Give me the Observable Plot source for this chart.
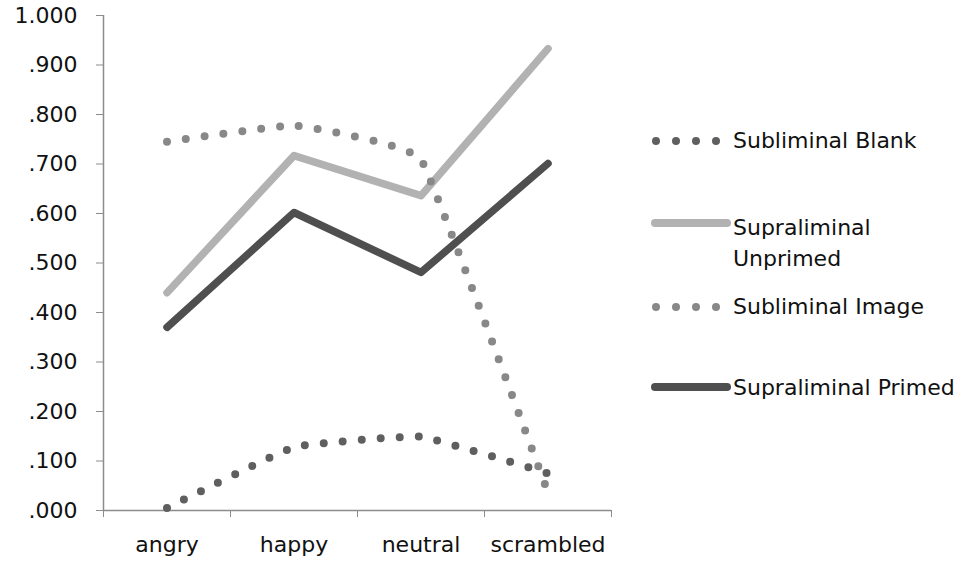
<!DOCTYPE html>
<html>
<head>
<meta charset="utf-8">
<script src="https://cdn.jsdelivr.net/npm/d3@7"></script>
<script src="https://cdn.jsdelivr.net/npm/@observablehq/plot@0.6"></script>
<style>
  body { margin: 0; background: #fff; }
  #wrap { position: relative; width: 972px; height: 572px; }
  #legend { position: absolute; left: 0; top: 0; pointer-events: none; }
</style>
</head>
<body>
<div id="wrap"></div>
<script>
const categories = ["angry", "happy", "neutral", "scrambled"];
const subliminalBlank = [0.005, 0.128, 0.149, 0.075];
const supraliminalUnprimed = [0.440, 0.717, 0.636, 0.933];
const subliminalImage = [0.745, 0.778, 0.709, 0.036];
const supraliminalPrimed = [0.370, 0.602, 0.481, 0.701];
const yTicks = [0, 0.1, 0.2, 0.3, 0.4, 0.5, 0.6, 0.7, 0.8, 0.9, 1.0];
const seriesNames = ["Subliminal Blank", "Supraliminal Unprimed", "Subliminal Image", "Supraliminal Primed"];

const toRows = (vals) => vals.map((v, i) => ({i, v}));
const boundaries = [-0.5, 0.5, 1.5, 2.5, 3.5];
const centers = categories.map((_, i) => i);
const fmtY = (d) => d3.format(".3f")(d).replace(/^0\./, ".");

const FONT = "DejaVu Sans";
const axisColor = "#8c8c8c";

const chart = Plot.plot({
  width: 972,
  height: 572,
  marginLeft: 103,
  marginRight: 361,
  marginTop: 15,
  marginBottom: 62,
  style: {fontFamily: FONT, fontSize: "22px", color: "#111", background: "#fff"},
  x: {type: "linear", domain: [-0.5, 3.5]},
  y: {domain: [0, 1]},
  marks: [
    Plot.ruleX([-0.5], {y1: 0, y2: 1, stroke: axisColor, strokeWidth: 1.5}),
    Plot.ruleY([0], {stroke: axisColor, strokeWidth: 1.5}),
    Plot.axisY({ticks: yTicks, tickSize: 7, tickPadding: 19, tickFormat: fmtY, stroke: axisColor, fill: "#111", fontSize: 22, label: null}),
    Plot.axisX({ticks: boundaries, tickSize: 7, tickFormat: () => "", stroke: axisColor, label: null}),
    Plot.axisX({ticks: centers, tickSize: 0, tickPadding: 26, tickFormat: (i) => categories[i], fill: "#111", fontSize: 22, label: null}),
    Plot.line(toRows(subliminalBlank), {x: "i", y: "v", curve: "cardinal", tension: 0.7, stroke: "#5f5f5f", strokeWidth: 8, strokeLinecap: "round", strokeDasharray: "0 19"}),
    Plot.line(toRows(supraliminalUnprimed), {x: "i", y: "v", stroke: "#b2b2b2", strokeWidth: 7.5, strokeLinecap: "round", strokeLinejoin: "round"}),
    Plot.line(toRows(subliminalImage), {x: "i", y: "v", curve: "cardinal", tension: 0.75, stroke: "#888888", strokeWidth: 8, strokeLinecap: "round", strokeDasharray: "0 19"}),
    Plot.line(toRows(supraliminalPrimed), {x: "i", y: "v", stroke: "#4f4f4f", strokeWidth: 7.5, strokeLinecap: "round", strokeLinejoin: "round"})
  ]
});
document.getElementById("wrap").appendChild(chart);

// Legend
const ns = "http://www.w3.org/2000/svg";
const leg = document.createElementNS(ns, "svg");
leg.setAttribute("id", "legend");
leg.setAttribute("width", 972);
leg.setAttribute("height", 572);
const items = [
  {name: seriesNames[0], lines: ["Subliminal Blank"], color: "#5f5f5f", dotted: true, sy: 141, ty: [148]},
  {name: seriesNames[1], lines: ["Supraliminal", "Unprimed"], color: "#b2b2b2", dotted: false, sy: 223, ty: [235, 266]},
  {name: seriesNames[2], lines: ["Subliminal Image"], color: "#888888", dotted: true, sy: 307, ty: [314]},
  {name: seriesNames[3], lines: ["Supraliminal Primed"], color: "#4f4f4f", dotted: false, sy: 387, ty: [395]}
];
for (const it of items) {
  const l = document.createElementNS(ns, "line");
  if (it.dotted) {
    l.setAttribute("x1", 656); l.setAttribute("x2", 716.5);
    l.setAttribute("stroke-dasharray", "0 20");
  } else {
    l.setAttribute("x1", 655); l.setAttribute("x2", 727);
  }
  l.setAttribute("y1", it.sy); l.setAttribute("y2", it.sy);
  l.setAttribute("stroke", it.color);
  l.setAttribute("stroke-width", 8);
  l.setAttribute("stroke-linecap", "round");
  leg.appendChild(l);
  it.lines.forEach((txt, k) => {
    const t = document.createElementNS(ns, "text");
    t.setAttribute("x", 733);
    t.setAttribute("y", it.ty[k]);
    t.setAttribute("font-family", FONT);
    t.setAttribute("font-size", "22px");
    t.setAttribute("fill", "#111");
    t.textContent = txt;
    leg.appendChild(t);
  });
}
document.getElementById("wrap").appendChild(leg);
</script>
</body>
</html>
